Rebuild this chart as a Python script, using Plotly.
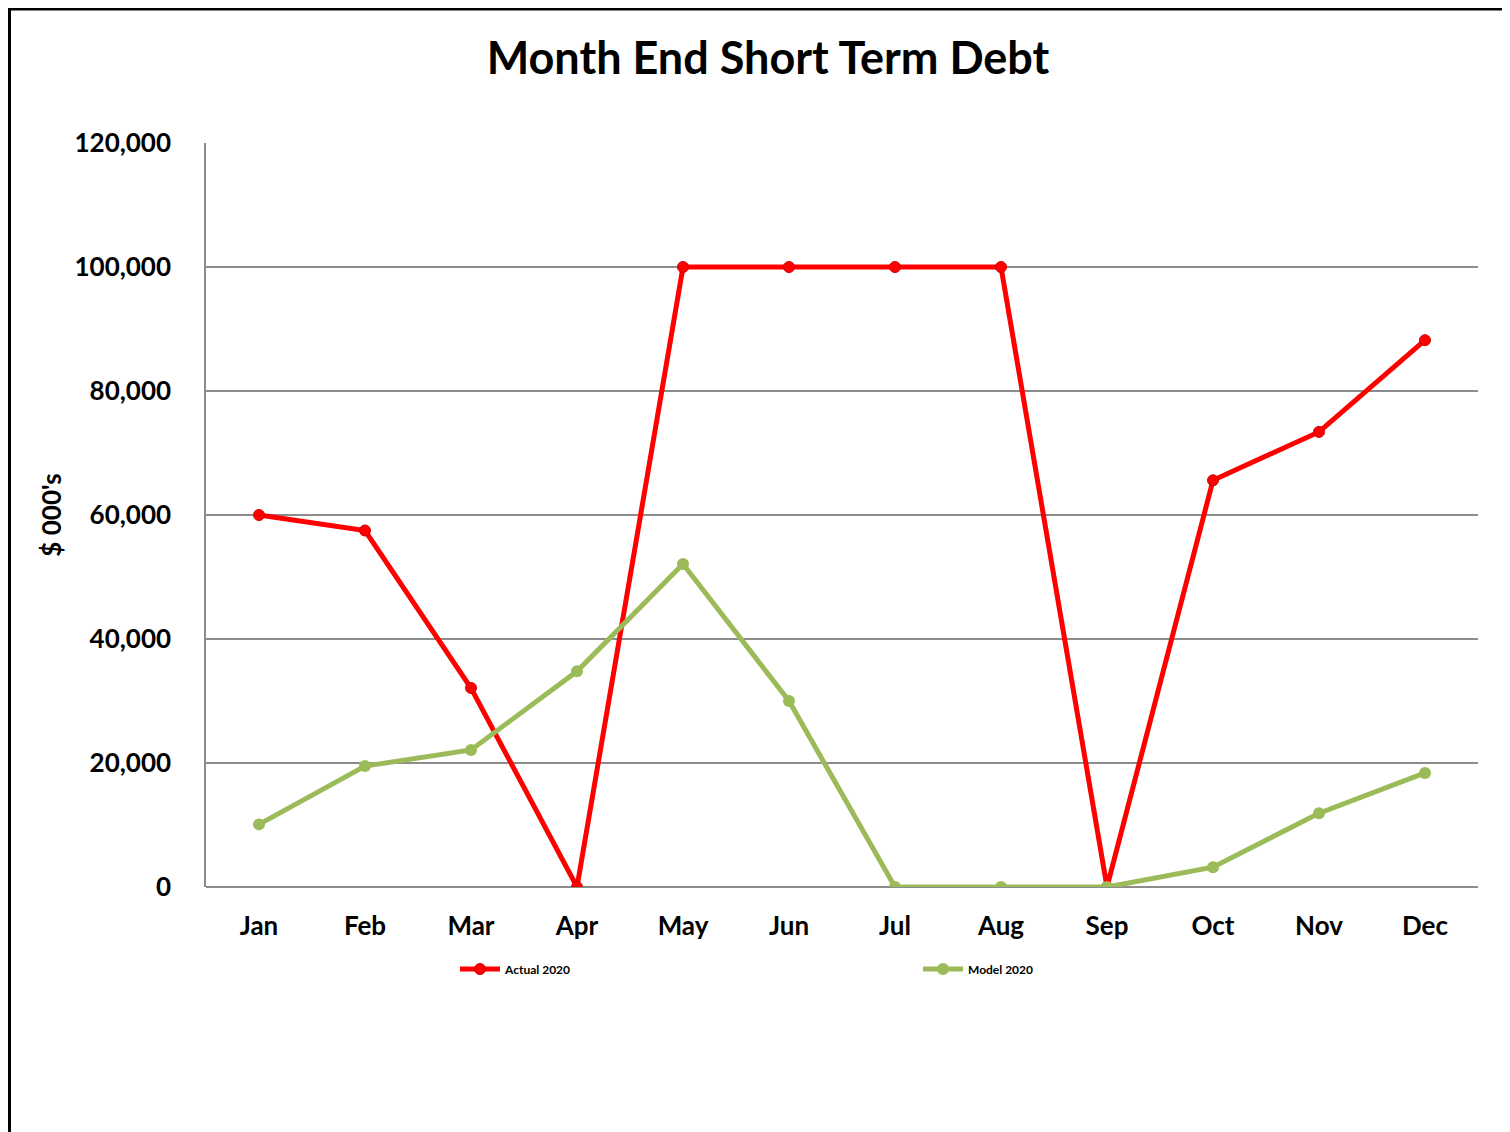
import plotly.graph_objects as go

months = ["Jan", "Feb", "Mar", "Apr", "May", "Jun", "Jul", "Aug", "Sep", "Oct", "Nov", "Dec"]
actual_2020 = [60000, 57500, 32100, 0, 100000, 100000, 100000, 100000, 0, 65600, 73400, 88200]
model_2020 = [10100, 19500, 22100, 34800, 52100, 30000, 0, 0, 0, 3200, 11900, 18400]
y_ticks = [0, 20000, 40000, 60000, 80000, 100000, 120000]
y_tick_labels = ["0", "20,000", "40,000", "60,000", "80,000", "100,000", "120,000"]

FONT = "Lato, 'Open Sans', sans-serif"

fig = go.Figure()
fig.add_trace(go.Scatter(x=months, y=actual_2020, name="<b>Actual 2020</b>", mode="lines+markers",
                         line=dict(color="#FF0000", width=5),
                         marker=dict(color="#FF0000", size=11, symbol="circle",
                                     line=dict(color="#D00000", width=1))))
fig.add_trace(go.Scatter(x=months, y=model_2020, name="<b>Model 2020</b>", mode="lines+markers",
                         line=dict(color="#9BBB59", width=5),
                         marker=dict(color="#9BBB59", size=12, symbol="circle")))

# page offset of 8px (body margin) compensated
OFF = 8
W, H = 1510, 1132
L, R, T, B = 206 - OFF, 40, 143 - OFF, 253
pw, ph = W - L - R, H - T - B

def px(x):
    return (x - OFF - L) / pw

def py(y):
    return (H - B - (y - OFF)) / ph

fig.update_layout(
    width=W, height=H,
    margin=dict(l=L, r=R, t=T, b=B),
    paper_bgcolor="white", plot_bgcolor="white",
    title=dict(text="<b>Month End Short Term Debt</b>", x=(768 - OFF) / W, xanchor="center",
               y=1 - (58 - OFF) / H, yanchor="middle",
               font=dict(family=FONT, size=45, color="black")),
    font=dict(family=FONT, color="black"),
    xaxis=dict(type="category", range=[-0.5, 11.5], showgrid=False,
               showline=False, ticks="",
               tickfont=dict(size=26, family=FONT, weight="bold"),
               ticklabelstandoff=21),
    yaxis=dict(range=[0, 120000], tickvals=y_ticks, ticktext=y_tick_labels,
               showgrid=True, gridcolor="#8C8C8C", gridwidth=1.5,
               showline=True, linecolor="#8C8C8C", linewidth=1.5,
               zeroline=True, zerolinecolor="#8C8C8C", zerolinewidth=1.5,
               tickfont=dict(size=26, family=FONT, weight="bold"),
               ticklabelstandoff=28,
               title=dict(text="<b>$ 000's</b>", font=dict(size=26, family=FONT), standoff=5)),
    legend=dict(orientation="h", x=px(455), xanchor="left", y=py(969), yanchor="middle",
                font=dict(size=12, family=FONT, color="black"),
                entrywidth=408, entrywidthmode="pixels", itemwidth=40,
                bgcolor="rgba(0,0,0,0)"),
    showlegend=True,
    shapes=[
        dict(type="line", xref="paper", yref="paper", x0=px(8), x1=px(1700), y0=py(9), y1=py(9),
             line=dict(color="black", width=3)),
        dict(type="line", xref="paper", yref="paper", x0=px(9.5), x1=px(9.5), y0=py(7), y1=py(1300),
             line=dict(color="black", width=3)),
    ],
)

fig.write_html("out.html")
